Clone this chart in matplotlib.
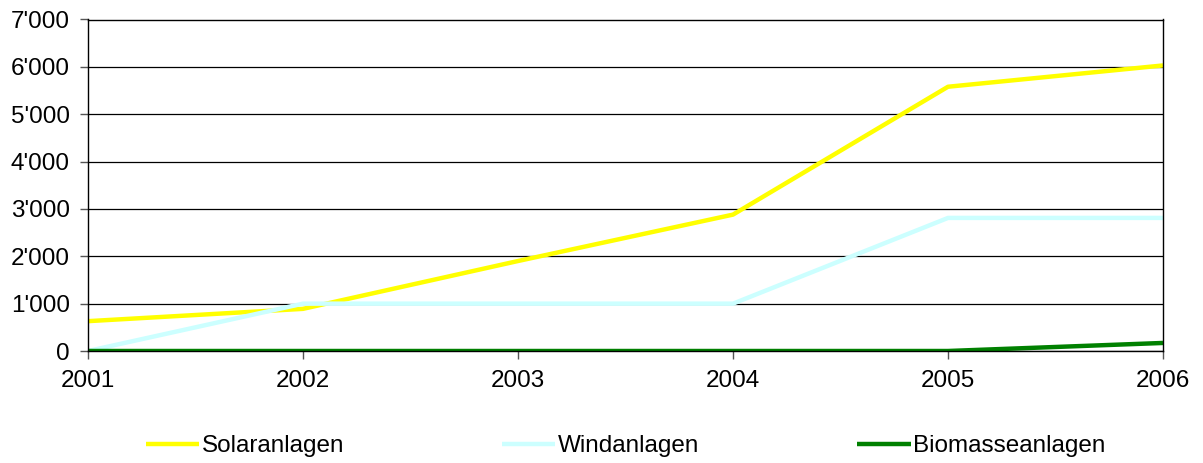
import matplotlib
matplotlib.use("Agg")
import matplotlib.pyplot as plt
from matplotlib.ticker import FuncFormatter

years = [2001, 2002, 2003, 2004, 2005, 2006]
solar = [630, 890, 1900, 2880, 5580, 6030]
wind = [0, 1000, 1000, 1000, 2810, 2810]
biomass = [0, 0, 0, 0, 0, 170]
labels = ["Solaranlagen", "Windanlagen", "Biomasseanlagen"]
colors = ["#FFFF00", "#CCFFFF", "#008000"]

plt.rcParams["font.family"] = ["Liberation Sans", "DejaVu Sans"]

fig = plt.figure(figsize=(12.03, 4.63), dpi=100)
ax = fig.add_axes([88 / 1203, 1 - 351 / 463, (1163 - 88) / 1203, (351 - 19.5) / 463])

for vals, lab, col in zip([solar, wind, biomass], labels, colors):
    ax.plot(years, vals, color=col, lw=3.2, label=lab, solid_capstyle="butt")

ax.set_xlim(2001, 2006)
ax.set_ylim(0, 7000)
ax.set_yticks(range(0, 7001, 1000))
ax.set_xticks(years)
ax.yaxis.set_major_formatter(FuncFormatter(lambda v, p: f"{int(v):,}".replace(",", "'")))
ax.grid(axis="y", color="black", lw=0.9)
ax.set_axisbelow(True)
for s in ax.spines.values():
    s.set_color("black")
    s.set_linewidth(1.0)
ax.tick_params(axis="both", labelsize=17.5, length=6, width=1, color="#555555")
ax.tick_params(axis="y", pad=7)
ax.tick_params(axis="x", pad=8)

ax.legend(loc="center", bbox_to_anchor=(0.5, -0.287), ncol=3, frameon=False,
          fontsize=17.5, handlelength=2.2, handletextpad=0.1, columnspacing=6.5)

fig.savefig("out.png", dpi=100)
